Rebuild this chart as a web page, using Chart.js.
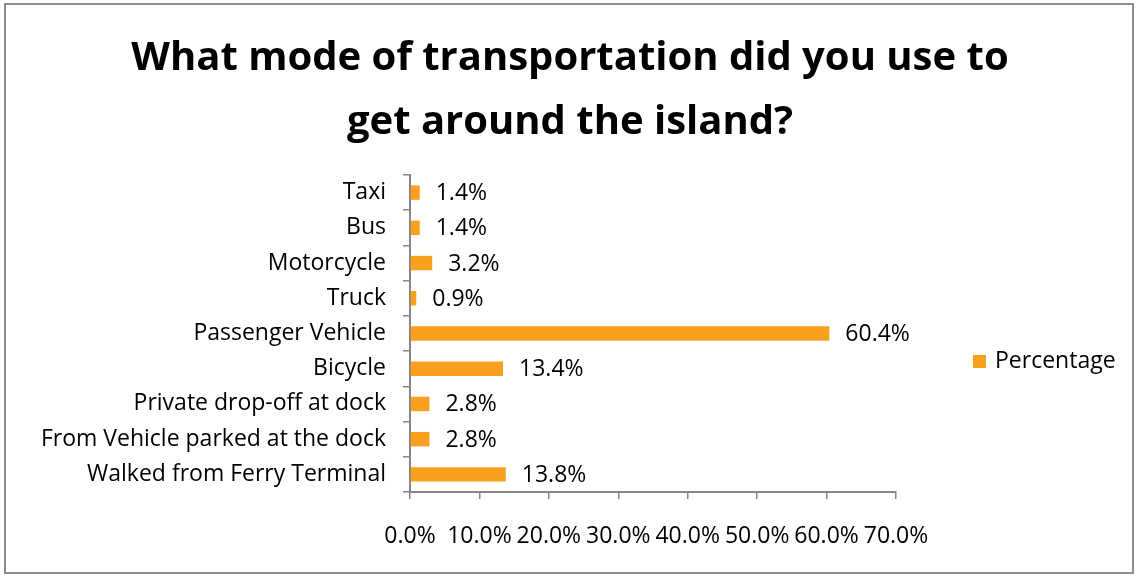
<!DOCTYPE html>
<html>
<head>
<meta charset="utf-8">
<script src="https://cdn.jsdelivr.net/npm/chart.js@4/dist/chart.umd.min.js"></script>
<style>
  html, body { margin: 0; padding: 0; background: #fff; }
  #wrap { position: relative; width: 1140px; height: 579px; }
  #frame {
    position: absolute; left: 4px; top: 3px; width: 1130px; height: 571px;
    border: 2px solid #8c8c8c; box-sizing: border-box; pointer-events: none;
  }
</style>
</head>
<body>
<div id="wrap">
  <canvas id="chart" width="1140" height="579"></canvas>
  <div id="frame"></div>
</div>
<script>
const titleLines = ["What mode of transportation did you use to", "get around the island?"];
const categories = [
  "Taxi",
  "Bus",
  "Motorcycle",
  "Truck",
  "Passenger Vehicle",
  "Bicycle",
  "Private drop-off at dock",
  "From Vehicle parked at the dock",
  "Walked from Ferry Terminal"
];
const percentages = [1.4, 1.4, 3.2, 0.9, 60.4, 13.4, 2.8, 2.8, 13.8];
const seriesName = "Percentage";
const xMax = 70;
const xStep = 10;

const FONT = "'Open Sans', 'DejaVu Sans', sans-serif";
const TEXT_SIZE = 23;
const BAR_COLOR = "#F9A01E";
const AXIS_COLOR = "#868686";

// value text to the right of each bar
const barLabels = {
  id: "barLabels",
  afterDatasetsDraw(chart) {
    const ctx = chart.ctx;
    const meta = chart.getDatasetMeta(0);
    ctx.save();
    ctx.font = TEXT_SIZE + "px " + FONT;
    ctx.fillStyle = "#000";
    ctx.textAlign = "left";
    ctx.textBaseline = "middle";
    meta.data.forEach((bar, i) => {
      ctx.fillText(chart.data.datasets[0].data[i].toFixed(1) + "%", bar.x + 16, bar.y + 1);
    });
    ctx.restore();
  }
};

// legend box sits in the empty band right of the plot
const sideLegend = {
  id: "sideLegend",
  afterDraw(chart) {
    const ctx = chart.ctx;
    const area = chart.chartArea;
    const ds = chart.data.datasets[0];
    const cy = (area.top + area.bottom) / 2 + 28;
    const x = area.right + 77;
    ctx.save();
    ctx.fillStyle = ds.backgroundColor;
    ctx.fillRect(x, cy - 6.5, 13, 13);
    ctx.font = TEXT_SIZE + "px " + FONT;
    ctx.fillStyle = "#000";
    ctx.textBaseline = "middle";
    ctx.fillText(ds.label, x + 22, cy);
    ctx.restore();
  }
};

new Chart(document.getElementById("chart"), {
  type: "bar",
  data: {
    labels: categories,
    datasets: [{
      label: seriesName,
      data: percentages,
      backgroundColor: BAR_COLOR,
      categoryPercentage: 1,
      barPercentage: 0.41
    }]
  },
  options: {
    indexAxis: "y",
    responsive: false,
    animation: false,
    plugins: {
      legend: { display: false },
      tooltip: { enabled: false },
      title: {
        display: true,
        text: titleLines,
        color: "#000",
        font: { family: FONT, size: 40, weight: "bold", lineHeight: 1.6 },
        padding: { top: 27, bottom: 20 }
      }
    },
    scales: {
      x: {
        min: 0,
        max: xMax,
        ticks: {
          stepSize: xStep,
          color: "#000",
          padding: 24,
          autoSkip: false,
          maxRotation: 0,
          minRotation: 0,
          font: { family: FONT, size: TEXT_SIZE },
          callback: (v) => v.toFixed(1) + "%"
        },
        grid: {
          drawOnChartArea: false,
          drawTicks: true,
          tickLength: 7,
          color: AXIS_COLOR,
          lineWidth: 1.5
        },
        border: { color: AXIS_COLOR, width: 2 },
        afterFit(scale) { scale.height = 87; }
      },
      y: {
        ticks: {
          color: "#000",
          padding: 17,
          font: { family: FONT, size: TEXT_SIZE }
        },
        grid: {
          offset: true,
          drawOnChartArea: false,
          tickLength: 7,
          color: AXIS_COLOR,
          lineWidth: 1.5
        },
        border: { color: AXIS_COLOR, width: 2 },
        afterFit(scale) { scale.width = 410; }
      },
      // empty right-hand band that holds the legend, keeps the title centred on the canvas
      legendBand: {
        axis: "y",
        position: "right",
        display: true,
        ticks: { display: false },
        grid: { display: false, drawTicks: false },
        border: { display: false },
        afterFit(scale) { scale.width = 244; }
      }
    }
  },
  plugins: [barLabels, sideLegend]
});
</script>
</body>
</html>
